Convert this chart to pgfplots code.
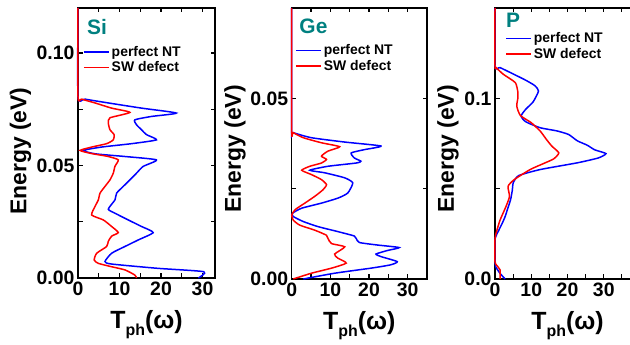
\documentclass[border=0pt]{standalone}
\usepackage{pgfplots}
\pgfplotsset{compat=1.18}
\usepackage{fontspec}
\setmainfont{Liberation Sans}
\definecolor{lblteal}{RGB}{0,128,128}
\definecolor{cblue}{RGB}{0,0,255}
\definecolor{cred}{RGB}{255,0,0}

\pgfplotstableread{
T E
29.0 0.0
30.3 0.0028
19.2 0.0043
8.1 0.0062
6.5 0.0073
8.1 0.011
11.3 0.014
14.5 0.0169
18.1 0.0202
15.3 0.0229
12.1 0.0258
8.9 0.0288
7.3 0.0306
8.9 0.0347
9.3 0.0377
10.9 0.0407
12.5 0.0436
14.1 0.0466
15.7 0.0496
18.9 0.0525
11.3 0.054
4.1 0.0552
1.3 0.0567
5.7 0.0582
12.9 0.0597
18.9 0.0614
16.5 0.0637
15.3 0.0659
14.1 0.0681
13.7 0.0703
17.7 0.0718
23.7 0.0733
15.3 0.0755
7.3 0.0778
1.7 0.0795
0 0.0805
0 0.12
}\siblue
\pgfplotstableread{
T E
14.1 0
13.7 0.0013
11.3 0.0036
8.1 0.005
4.9 0.0065
3.9 0.008
4.5 0.011
6.9 0.014
7.3 0.0163
8.1 0.0186
9.7 0.0202
8.1 0.0229
6.1 0.0258
3.3 0.028
4.1 0.0318
4.9 0.0347
5.3 0.0377
6.5 0.0407
7.7 0.0436
8.5 0.0466
8.9 0.0496
9.7 0.0525
7.3 0.054
3.3 0.0553
0.5 0.0567
3.3 0.0582
6.9 0.0597
8.5 0.0614
8.7 0.0637
7.7 0.0659
7.3 0.0689
7.7 0.0712
12.5 0.0736
8.1 0.0755
4.1 0.0778
0.9 0.0795
0 0.0807
0 0.12
}\sired
\pgfplotstableread{
T E
3 0
11.1 0.0016
20.5 0.003
25.5 0.0039
27.3 0.0048
23.1 0.0062
21.8 0.0069
24.8 0.0079
27.8 0.0087
22.2 0.0094
17.5 0.0101
16.7 0.0112
16.2 0.0119
12 0.0131
6.8 0.0145
3 0.0159
0.4 0.0173
0.2 0.0182
2.6 0.0196
7.7 0.021
12 0.0224
14.5 0.0238
15.8 0.0266
13.7 0.028
8.5 0.0294
4.7 0.0301
9.4 0.0312
16.7 0.0321
17.9 0.0326
16.2 0.0335
15.4 0.0349
18.8 0.0358
23.1 0.0368
13.7 0.0379
5.1 0.0391
0.4 0.0405
0 0.041
0 0.075
}\geblue
\pgfplotstableread{
T E
0.4 0
5.1 0.0016
10.3 0.003
14.1 0.0044
11.9 0.0058
11.1 0.0069
13.7 0.0089
10.3 0.0098
9.4 0.0112
9 0.0121
6 0.0135
2.1 0.0149
0.4 0.0163
0 0.0177
0.9 0.0192
3.4 0.021
6 0.0229
8.1 0.0247
9 0.0261
7.7 0.0275
5.1 0.0289
2.6 0.0301
4.7 0.0312
7.7 0.0321
9 0.0331
7.7 0.034
9.4 0.0354
12.4 0.0366
7.7 0.0377
3 0.0391
0.4 0.0405
0 0.041
0 0.075
}\gered
\pgfplotstableread{
T E
2.8 0
1.4 0.0031
0.2 0.0068
0 0.0105
0 0.022
1.1 0.0272
2 0.0309
2.8 0.0346
3.7 0.0402
4.3 0.0439
4.8 0.0494
5 0.0531
6.5 0.0572
12.5 0.0606
22.7 0.0643
28.5 0.067
30.6 0.0694
27.5 0.0715
25.5 0.0740
22.7 0.0765
20.3 0.080
17 0.082
12.5 0.0837
8.5 0.087
7.2 0.0902
8.5 0.094
10.5 0.098
12 0.1040
11 0.107
8.5 0.110
5 0.1135
1.4 0.117
0 0.1178
0 0.15
}\pblue
\pgfplotstableread{
T E
1.4 0
1.4 0.005
0.5 0.0075
0 0.0095
0 0.022
0.3 0.0254
1.4 0.0326
3.0 0.040
4.0 0.0457
3.6 0.0513
5.3 0.055
9.7 0.0606
13.5 0.064
16.2 0.0665
17.6 0.0698
15.7 0.0735
14.2 0.0772
12.5 0.0818
10 0.0865
7 0.0905
6 0.0957
6.3 0.1000
6.3 0.1035
5.6 0.1087
2.3 0.1133
0.3 0.117
0 0.118
0 0.15
}\pred

\tikzset{lbl/.style={anchor=west, text=lblteal, font=\bfseries\fontsize{21}{21}\selectfont, inner sep=0pt}}
\pgfplotsset{legend image code/.code={\draw[#1, line width=1.6bp] (0bp,0bp) -- (25bp,0bp);}}
\pgfplotsset{
  panel/.style={
    set layers,
    scale only axis, anchor=south west,
    xmin=0, ymin=0,
    xtick={0,10,20,30}, xticklabels={0,10,20,30},
    minor xtick={5,15,25,35},
    major tick length=4.5bp, minor tick length=4.5bp,
    every tick/.style={black, line width=1.1bp},
    axis line style={line width=1.2bp},
    tick label style={font=\bfseries\fontsize{19.5}{19.5}\selectfont},
    /pgf/number format/assume math mode=true,
    xlabel={T\raisebox{-0.55ex}{\fontsize{16}{16}\selectfont ph}(ω)},
    xlabel style={font=\bfseries\fontsize{25}{25}\selectfont, at={(axis description cs:0.5,0)}, anchor=base, yshift=-50bp},
    ylabel={Energy (eV)},
    ylabel style={font=\bfseries\fontsize{23}{23}\selectfont, anchor=center},
    legend cell align=left,
    legend style={draw=none, fill=none, inner sep=0pt, font=\bfseries\fontsize{14}{14}\selectfont, anchor=north west, nodes={inner sep=2bp}},
    clip=false,
  },
  bl/.style={cblue, line width=1.5bp, smooth, tension=0.35, no markers},
  rl/.style={cred, line width=1.5bp, smooth, tension=0.35, no markers},
}

\begin{document}
\begin{tikzpicture}

\begin{axis}[panel, at={(78bp,67bp)}, width=137bp, height=270bp,
  xmax=33, ymax=0.12,
  ytick={0,0.05,0.1}, yticklabels={0.00,0.05,0.10}, minor ytick={0.025,0.075},
  ylabel style={at={(axis description cs:-0.42,0.47)}},
  legend style={at={(rel axis cs:0.036,0.867)}}]
\addplot[bl] table[x=T,y=E] {\siblue};
\addlegendentry{perfect NT}
\addplot[rl] table[x=T,y=E] {\sired};
\addlegendentry{SW defect}
\node[lbl] at (rel axis cs:0.066,0.93) {Si};
\end{axis}

\begin{axis}[panel, at={(291.7bp,66bp)}, width=135.3bp, height=271bp,
  xmax=35, ymax=0.075,
  ytick={0,0.05}, yticklabels={0.00,0.05}, minor ytick={0.025},
  ylabel style={at={(axis description cs:-0.42,0.48)}},
  legend style={at={(rel axis cs:0.024,0.873)}}]
\addplot[bl] table[x=T,y=E] {\geblue};
\addlegendentry{perfect NT}
\addplot[rl] table[x=T,y=E] {\gered};
\addlegendentry{SW defect}
\node[lbl] at (rel axis cs:0.056,0.931) {Ge};
\end{axis}

\begin{axis}[panel, at={(495bp,66bp)}, width=145bp, height=271bp,
  xmax=40, ymax=0.15,
  ytick={0,0.1}, yticklabels={0.0,0.1}, minor ytick={0.05},
  ylabel style={at={(axis description cs:-0.324,0.48)}},
  legend style={at={(rel axis cs:0.069,0.917)}}]
\addplot[bl] table[x=T,y=E] {\pblue};
\addlegendentry{perfect NT}
\addplot[rl] table[x=T,y=E] {\pred};
\addlegendentry{SW defect}
\node[lbl] at (rel axis cs:0.076,0.956) {P};
\end{axis}

\pgfresetboundingbox
\path[use as bounding box] (0,0) rectangle (630bp,345bp);
\end{tikzpicture}
\end{document}
